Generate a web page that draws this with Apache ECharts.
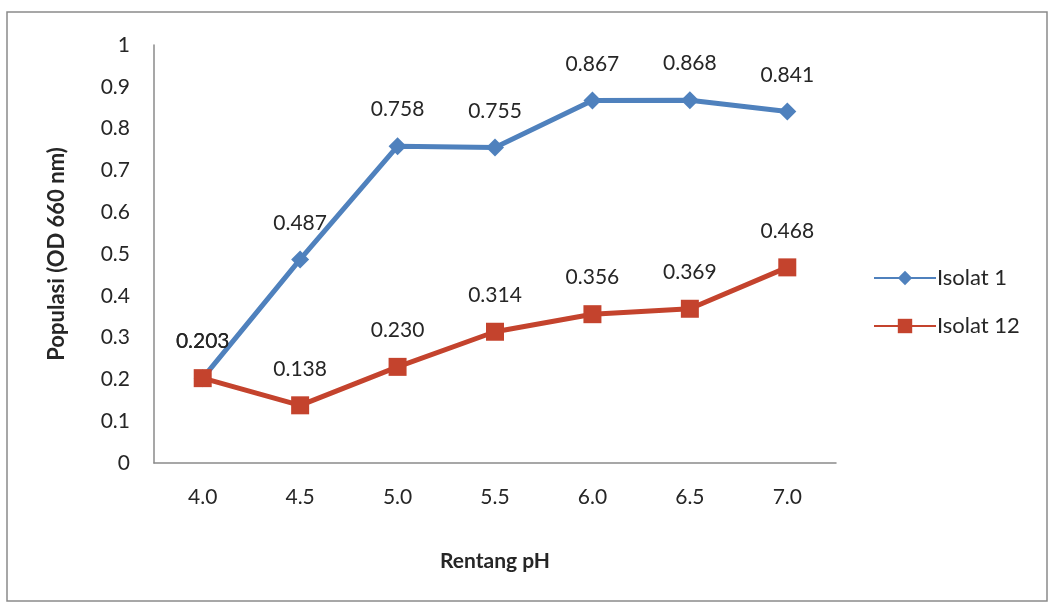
<!DOCTYPE html>
<html>
<head>
<meta charset="utf-8">
<script src="https://cdn.jsdelivr.net/npm/echarts@6/dist/echarts.min.js"></script>
<style>
  html, body { margin: 0; padding: 0; background: #ffffff; }
  #chart { width: 1052px; height: 603px; }
</style>
</head>
<body>
<div id="chart"></div>
<script>
// pH range on the x axis
const categories = ['4.0', '4.5', '5.0', '5.5', '6.0', '6.5', '7.0'];
// Optical density (660 nm) per isolate
const isolat1 = [0.203, 0.487, 0.758, 0.755, 0.867, 0.868, 0.841];
const isolat12 = [0.203, 0.138, 0.230, 0.314, 0.356, 0.369, 0.468];
const seriesNames = ['Isolat 1', 'Isolat 12'];

const FONT = 'Lato, "Open Sans", sans-serif';
const TEXT = '#262626';

const chart = echarts.init(document.getElementById('chart'), null, { renderer: 'canvas' });

const labelStyle = {
  show: true,
  position: 'top',
  distance: 17,
  color: TEXT,
  fontFamily: FONT,
  fontSize: 21,
  formatter: p => p.value.toFixed(3)
};

chart.setOption({
  backgroundColor: '#ffffff',
  animation: false,
  graphic: [{
    type: 'rect',
    shape: { x: 7, y: 12, width: 1040, height: 589 },
    style: { fill: 'none', stroke: '#8a8a8a', lineWidth: 1.5 },
    silent: true
  }],
  grid: { left: 154, right: 216, top: 45, bottom: 140, containLabel: false },
  legend: {
    orient: 'vertical',
    left: 868,
    top: 262,
    itemGap: 26,
    itemWidth: 62,
    itemHeight: 18,
    textStyle: { color: TEXT, fontFamily: FONT, fontSize: 22, padding: [0, 0, 0, -4] },
    data: seriesNames
  },
  xAxis: {
    type: 'category',
    data: categories,
    boundaryGap: true,
    name: 'Rentang pH',
    nameLocation: 'middle',
    nameGap: 88,
    nameTextStyle: { color: TEXT, fontFamily: FONT, fontSize: 21, fontWeight: 'bold' },
    axisLine: { lineStyle: { color: '#8a8a8a', width: 1.5 } },
    axisTick: { show: false },
    axisLabel: { color: TEXT, fontFamily: FONT, fontSize: 21, margin: 24 },
    splitLine: { show: false }
  },
  yAxis: {
    type: 'value',
    min: 0,
    max: 1,
    interval: 0.1,
    name: 'Populasi (OD 660 nm)',
    nameLocation: 'middle',
    nameRotate: 90,
    nameGap: 86,
    nameTextStyle: { color: TEXT, fontFamily: FONT, fontSize: 22, fontWeight: 'bold' },
    axisLine: { show: true, lineStyle: { color: '#8a8a8a', width: 1.5 } },
    axisTick: { show: false },
    axisLabel: {
      color: TEXT, fontFamily: FONT, fontSize: 21, margin: 24,
      formatter: v => (Math.round(v * 10) / 10).toString()
    },
    splitLine: { show: false }
  },
  series: [
    {
      name: seriesNames[0],
      type: 'line',
      data: isolat1,
      symbol: 'diamond',
      symbolSize: 18,
      itemStyle: { color: '#4f81bd' },
      lineStyle: { color: '#4f81bd', width: 5 },
      label: labelStyle,
      z: 2
    },
    {
      name: seriesNames[1],
      type: 'line',
      data: isolat12,
      symbol: 'rect',
      symbolSize: 18,
      itemStyle: { color: '#c4432d' },
      lineStyle: { color: '#c4432d', width: 5 },
      label: labelStyle,
      z: 3
    }
  ]
});
</script>
</body>
</html>
